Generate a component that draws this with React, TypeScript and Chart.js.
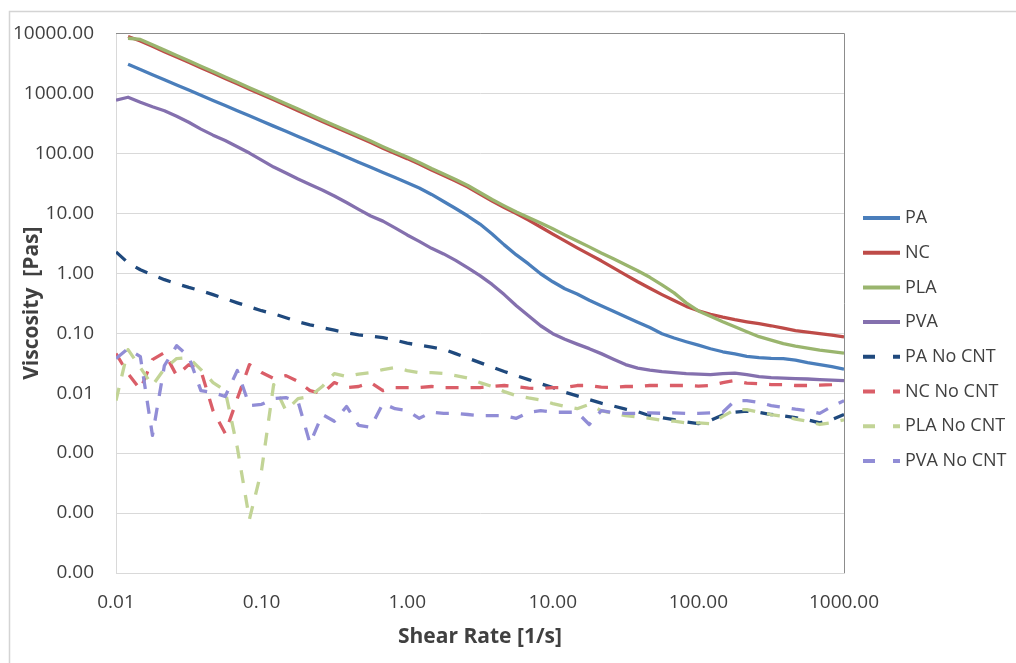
import React, { useEffect, useRef } from "react";
import { Chart, registerables } from "chart.js";

Chart.register(...registerables);

// Shear rate grid [1/s] (12 points per decade)
const shearRate = [
  0.01, 0.0121, 0.0147, 0.0178, 0.0215, 0.0261, 0.0316, 0.0383, 0.0464, 0.0562, 0.0681, 0.0825,
  0.1, 0.121, 0.147, 0.178, 0.215, 0.261, 0.316, 0.383, 0.464, 0.562, 0.681, 0.825,
  1.0, 1.21, 1.47, 1.78, 2.15, 2.61, 3.16, 3.83, 4.64, 5.62, 6.81, 8.25,
  10.0, 12.1, 14.7, 17.8, 21.5, 26.1, 31.6, 38.3, 46.4, 56.2, 68.1, 82.5,
  100, 121, 147, 178, 215, 261, 316, 383, 464, 562, 681, 825, 1000,
];

const pa = [
  null, 3050, 2500, 2050, 1680, 1380, 1135, 930, 762, 627, 513, 422,
  346, 284, 233, 191, 157, 129, 106, 86.7, 71.1, 58.5, 48.0, 39.4,
  32.3, 26.4, 20.6, 15.7, 12.0, 9.0, 6.6, 4.5, 2.97, 2.02, 1.43, 0.98,
  0.72, 0.55, 0.45, 0.354, 0.287, 0.232, 0.188, 0.152, 0.124, 0.098, 0.083, 0.072,
  0.063, 0.055, 0.049, 0.045, 0.041, 0.039, 0.038, 0.0377, 0.0356, 0.0323, 0.0299, 0.0277, 0.0252,
];

const nc = [
  null, 8900, 7480, 6100, 4960, 4040, 3290, 2680, 2180, 1770, 1445, 1175,
  955, 780, 634, 515, 419, 340, 278, 227, 186, 151, 122, 99,
  81.6, 66.1, 52.5, 42.5, 34.5, 27.4, 20.9, 16.0, 12.5, 9.9, 7.7, 5.9,
  4.5, 3.46, 2.65, 2.06, 1.61, 1.23, 0.94, 0.72, 0.56, 0.44, 0.35, 0.28,
  0.237, 0.207, 0.185, 0.168, 0.155, 0.144, 0.133, 0.121, 0.11, 0.104, 0.098, 0.093, 0.087,
];

const pla = [
  null, 8300, 7930, 6470, 5260, 4280, 3490, 2840, 2310, 1880, 1530, 1245,
  1012, 827, 672, 546, 444, 360, 295, 241, 197, 160, 129, 105,
  86.5, 70.1, 55.7, 45.1, 36.6, 29.0, 22.2, 17.0, 13.3, 10.5, 8.5, 6.9,
  5.5, 4.35, 3.46, 2.75, 2.18, 1.74, 1.38, 1.1, 0.855, 0.64, 0.47, 0.32,
  0.235, 0.192, 0.155, 0.128, 0.106, 0.0875, 0.0766, 0.0668, 0.0608, 0.0562, 0.0521, 0.0492, 0.0464,
];

const pva = [
  768, 861, 711, 598, 513, 416, 330, 253, 201, 163, 129, 101,
  77, 58.9, 46.8, 37.2, 30.2, 24.4, 19.4, 15.1, 11.6, 9.0, 7.4, 5.7,
  4.35, 3.4, 2.6, 2.1, 1.64, 1.23, 0.91, 0.65, 0.44, 0.287, 0.195, 0.133,
  0.098, 0.079, 0.0656, 0.0552, 0.0456, 0.0369, 0.0299, 0.0262, 0.0242, 0.0229, 0.022, 0.0212,
  0.0208, 0.0204, 0.0212, 0.0216, 0.0204, 0.0189, 0.0182, 0.0178, 0.0175, 0.0172, 0.0168, 0.0165, 0.0162,
];

const paNoCnt = [
  2.27, 1.49, 1.14, 0.94, 0.78, 0.67, 0.58, 0.51, 0.44, 0.375, 0.321, 0.276,
  0.237, 0.211, 0.181, 0.155, 0.138, 0.124, 0.112, 0.102, 0.094, 0.089, 0.084, 0.0766,
  0.0682, 0.063, 0.0585, 0.0542, 0.0456, 0.0384, 0.0323, 0.0272, 0.0229, 0.0196, 0.0168, 0.0144,
  0.0124, 0.0104, 0.009, 0.0078, 0.0068, 0.0061, 0.0054, 0.0049, 0.0042, 0.0039, 0.0036, 0.0033,
  0.0031, 0.0035, 0.0043, 0.0048, 0.005, 0.0048, 0.0044, 0.0042, 0.0039, 0.0036, 0.0032, 0.0036, 0.0044,
];

const ncNoCnt = [
  0.0456, 0.0212, 0.0115, 0.0362, 0.0474, 0.0196, 0.0299, 0.0238, 0.0051, 0.00213, 0.0081, 0.0299,
  0.022, 0.0175, 0.0196, 0.0156, 0.011, 0.0098, 0.015, 0.0124, 0.0129, 0.015, 0.011, 0.0124,
  0.0124, 0.0124, 0.0129, 0.0124, 0.0124, 0.0124, 0.0124, 0.0129, 0.0134, 0.0129, 0.0121, 0.0119,
  0.0124, 0.0124, 0.0134, 0.0134, 0.0126, 0.0124, 0.0129, 0.0129, 0.0134, 0.0134, 0.0134, 0.0134,
  0.0131, 0.0134, 0.015, 0.0162, 0.0147, 0.0144, 0.0139, 0.0139, 0.0134, 0.0134, 0.0136, 0.0139, 0.0144,
];

const plaNoCnt = [
  0.0075, 0.0531, 0.0267, 0.0134, 0.0256, 0.0377, 0.0391, 0.0247, 0.015, 0.011, 0.00124, 0.000079,
  0.00052, 0.0139, 0.0051, 0.0081, 0.0088, 0.0129, 0.0212, 0.0189, 0.0208, 0.022, 0.0247, 0.0267,
  0.0238, 0.022, 0.022, 0.0212, 0.0196, 0.0178, 0.015, 0.0129, 0.0106, 0.0091, 0.0083, 0.0077,
  0.0067, 0.006, 0.0055, 0.0065, 0.0051, 0.0046, 0.0042, 0.004, 0.0038, 0.0035, 0.0034, 0.0032,
  0.0032, 0.0031, 0.0041, 0.0053, 0.0053, 0.0048, 0.0044, 0.0041, 0.0037, 0.0034, 0.003, 0.0032, 0.0036,
];

const pvaNoCnt = [
  0.0377, 0.0552, 0.0406, 0.00197, 0.0288, 0.0619, 0.0406, 0.011, 0.0102, 0.0088, 0.0238, 0.0062,
  0.0065, 0.0081, 0.0084, 0.0072, 0.00145, 0.0044, 0.0034, 0.006, 0.0029, 0.0027, 0.0067, 0.0055,
  0.0051, 0.0038, 0.0048, 0.0046, 0.0046, 0.0044, 0.0042, 0.0042, 0.0042, 0.0038, 0.0048, 0.0051,
  0.0048, 0.0048, 0.0048, 0.003, 0.0051, 0.0047, 0.0046, 0.0046, 0.0047, 0.0046, 0.0047, 0.0046,
  0.0046, 0.0047, 0.0048, 0.0075, 0.0075, 0.007, 0.0062, 0.0058, 0.0054, 0.0051, 0.0046, 0.006, 0.0075,
];

const seriesNames = ["PA", "NC", "PLA", "PVA", "PA No CNT", "NC No CNT", "PLA No CNT", "PVA No CNT"];
const seriesColors = ["#4A7EBB", "#BE4B48", "#9AB56E", "#8470AE", "#1F497D", "#DA5E68", "#C2D496", "#918DD6"];
const seriesDashed = [false, false, false, false, true, true, true, true];

const xTicks = [0.01, 0.1, 1, 10, 100, 1000];
const yTicks = [0.00001, 0.0001, 0.001, 0.01, 0.1, 1, 10, 100, 1000, 10000];

const FONT = "'Open Sans', 'Noto Sans', sans-serif";
const TEXT = "#404040";

export default function App() {
  const ref = useRef<HTMLCanvasElement>(null);

  useEffect(() => {
    if (!ref.current) return;
    const allValues = [pa, nc, pla, pva, paNoCnt, ncNoCnt, plaNoCnt, pvaNoCnt];
    const datasets = allValues.map((vals, i) => ({
      label: seriesNames[i],
      data: vals
        .map((v, k) => (v == null ? null : { x: shearRate[k], y: v }))
        .filter((p) => p !== null),
      borderColor: seriesColors[i],
      backgroundColor: seriesColors[i],
      borderWidth: 3.3,
      borderDash: seriesDashed[i] ? [13, 12] : [],
      borderCapStyle: "butt",
      borderJoinStyle: "round",
      pointRadius: 0,
      pointHoverRadius: 0,
      tension: 0,
      fill: false,
      order: 10 - i,
    }));

    const framePlugin = {
      id: "frameAndLegend",
      beforeDraw(chart: any) {
        const ctx = chart.ctx;
        ctx.save();
        ctx.fillStyle = "#ffffff";
        ctx.fillRect(0, 0, chart.width, chart.height);
        ctx.strokeStyle = "#D4D4D4";
        ctx.lineWidth = 1.5;
        ctx.beginPath();
        ctx.moveTo(9.5, chart.height);
        ctx.lineTo(9.5, 11.5);
        ctx.lineTo(chart.width, 11.5);
        ctx.stroke();
        ctx.restore();
      },
      beforeDatasetsDraw(chart: any) {
        const { ctx, chartArea: a } = chart;
        ctx.save();
        ctx.strokeStyle = "#8C8C8C";
        ctx.lineWidth = 1;
        ctx.beginPath();
        ctx.moveTo(a.left, Math.round(a.top) + 0.5);
        ctx.lineTo(Math.round(a.right) + 0.5, Math.round(a.top) + 0.5);
        ctx.lineTo(Math.round(a.right) + 0.5, a.bottom);
        ctx.stroke();
        ctx.restore();
      },
      afterDraw(chart: any) {
        const ctx = chart.ctx;
        ctx.save();
        chart.data.datasets.forEach((ds: any, i: number) => {
          const y = 218 + i * 34.7;
          ctx.strokeStyle = ds.borderColor;
          ctx.lineWidth = 4;
          ctx.lineCap = "butt";
          ctx.setLineDash(seriesDashed[i] ? [12, 18] : []);
          ctx.beginPath();
          ctx.moveTo(863, y);
          ctx.lineTo(900, y);
          ctx.stroke();
          ctx.setLineDash([]);
          ctx.fillStyle = TEXT;
          ctx.font = `18px ${FONT}`;
          ctx.textBaseline = "middle";
          ctx.textAlign = "left";
          ctx.fillText(ds.label, 905, y);
        });
        ctx.restore();
      },
    };

    const chart = new Chart(ref.current, {
      type: "line",
      data: { datasets: datasets as any },
      options: {
        responsive: false,
        animation: false,
        devicePixelRatio: 1,
        events: [],
        layout: { padding: { left: 10, right: 172, top: 32, bottom: 0 } },
        plugins: { legend: { display: false }, tooltip: { enabled: false } },
        scales: {
          x: {
            type: "logarithmic",
            min: 0.01,
            max: 1000,
            afterBuildTicks: (s: any) => {
              s.ticks = xTicks.map((v) => ({ value: v }));
            },
            afterFit: (s: any) => {
              s.height = 90;
            },
            ticks: {
              callback: (v: any) => Number(v).toFixed(2),
              autoSkip: false,
              maxRotation: 0,
              minRotation: 0,
              padding: 18,
              color: TEXT,
              font: { family: FONT, size: 19 },
            },
            grid: { display: false, drawTicks: false },
            border: { display: true, color: "#D9D9D9", width: 1 },
            title: {
              display: true,
              text: "Shear Rate [1/s]",
              color: TEXT,
              font: { family: FONT, size: 21, weight: "bold" },
              padding: { top: 0, bottom: 13 },
            },
          },
          y: {
            type: "logarithmic",
            min: 0.00001,
            max: 10000,
            afterBuildTicks: (s: any) => {
              s.ticks = yTicks.map((v) => ({ value: v }));
            },
            afterFit: (s: any) => {
              s.width = 106;
            },
            ticks: {
              callback: (v: any) => Number(v).toFixed(2),
              autoSkip: false,
              padding: 22,
              color: TEXT,
              font: { family: FONT, size: 19 },
            },
            grid: { color: "#D9D9D9", lineWidth: 1, drawTicks: false },
            border: { display: true, color: "#D9D9D9", width: 1 },
            title: {
              display: true,
              text: "Viscosity  [Pas]",
              color: TEXT,
              font: { family: FONT, size: 21, weight: "bold" },
              padding: { top: 9, bottom: 0 },
            },
          },
        },
      } as any,
      plugins: [framePlugin],
    });

    return () => {
      chart.destroy();
    };
  }, []);

  return (
    <div
      style={{
        position: "fixed",
        left: 0,
        top: 0,
        width: 1016,
        height: 663,
        background: "#ffffff",
      }}
    >
      <canvas ref={ref} width={1016} height={663} style={{ display: "block", width: 1016, height: 663 }} />
    </div>
  );
}
